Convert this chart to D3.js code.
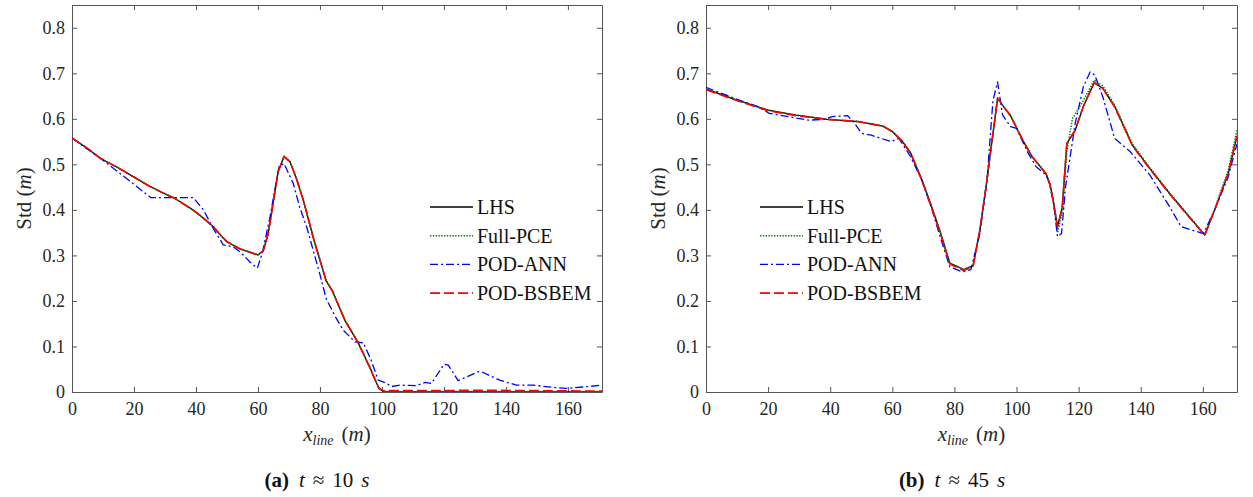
<!DOCTYPE html>
<html>
<head>
<meta charset="utf-8">
<script src="https://cdn.jsdelivr.net/npm/d3@7"></script>
<style>
  body { margin: 0; background: #fff; }
  svg, svg text { font-family: "Liberation Serif", "Times New Roman", serif; }
  .tick text { fill: #262626; font-size: 18px; font-family: "Liberation Serif", serif; }
</style>
</head>
<body>
<svg id="fig" width="1253" height="497"></svg>
<script>
// ---- data ----
const seriesNames = ["LHS", "Full-PCE", "POD-ANN", "POD-BSBEM"];
const xTicks = [0, 20, 40, 60, 80, 100, 120, 140, 160];
const yTicks = [0, 0.1, 0.2, 0.3, 0.4, 0.5, 0.6, 0.7, 0.8];
const xMax = 171, yMax = 0.85;

// (a) t ~ 10 s
const a_LHS = [[0,0.558],[5,0.535],[9,0.514],[15,0.492],[20,0.472],[25,0.452],[30,0.435],[33,0.426],[36,0.413],[39,0.400],[42,0.384],[45.6,0.363],[48,0.344],[50,0.330],[54,0.315],[57,0.308],[60,0.301],[61.7,0.310],[63.3,0.348],[65,0.420],[66.5,0.484],[68.4,0.517],[70.3,0.506],[72.2,0.473],[74.6,0.422],[78,0.335],[82,0.244],[84,0.222],[88,0.158],[92.4,0.107],[96,0.055],[99,0.008],[100.5,0.001],[110,0],[171,0]];
const a_PCE = [[0,0.558],[5,0.535],[9,0.514],[15,0.492],[20,0.472],[25,0.452],[30,0.435],[33,0.426],[36,0.413],[39,0.400],[42,0.384],[45.6,0.363],[48,0.344],[50,0.330],[54,0.315],[57,0.308],[60,0.301],[61.7,0.310],[63.3,0.348],[65,0.420],[66.5,0.484],[68.4,0.518],[70.3,0.507],[72.2,0.474],[74.6,0.423],[78,0.336],[82,0.245],[84,0.223],[88,0.159],[92.4,0.108],[96,0.056],[99,0.009],[100.5,0.001],[110,0],[171,0]];
const a_ANN = [[0,0.558],[5,0.533],[10,0.509],[17.6,0.469],[25.4,0.427],[32.7,0.427],[39.1,0.427],[42.4,0.400],[45.6,0.359],[48.8,0.323],[52,0.319],[54.7,0.305],[57.5,0.285],[59.8,0.272],[61.4,0.305],[63.9,0.385],[66.8,0.495],[68.4,0.502],[71.4,0.458],[73.5,0.405],[75.7,0.363],[80,0.258],[82,0.205],[85,0.165],[87.5,0.136],[91.3,0.110],[94,0.108],[96.5,0.070],[98.8,0.026],[101.5,0.019],[103.1,0.012],[105.8,0.015],[111.2,0.014],[113.9,0.021],[116,0.019],[120,0.061],[121.4,0.059],[124.6,0.025],[131.6,0.046],[138,0.026],[143.4,0.015],[148.8,0.015],[155.3,0.010],[159.6,0.008],[165,0.011],[171,0.015]];
const a_BSBEM = [[0,0.558],[5,0.535],[9,0.514],[15,0.492],[20,0.472],[25,0.452],[30,0.435],[33,0.426],[36,0.413],[39,0.400],[42,0.384],[45.6,0.363],[48,0.344],[50,0.330],[54,0.315],[57,0.308],[60,0.301],[61.7,0.310],[63.3,0.348],[65,0.420],[66.5,0.484],[68.4,0.517],[70.3,0.506],[72.2,0.473],[74.6,0.422],[78,0.335],[82,0.244],[84,0.222],[88,0.158],[92.4,0.107],[96,0.055],[99,0.008],[100.5,0.003],[110,0.003],[120,0.003],[130,0.004],[150,0.003],[171,0.002]];

// (b) t ~ 45 s
const b_LHS = [[0,0.665],[10,0.641],[20,0.619],[29,0.608],[39,0.599],[49,0.594],[57,0.584],[60,0.572],[63.3,0.550],[66,0.524],[69.5,0.466],[72.5,0.410],[75.6,0.348],[78.5,0.283],[83,0.269],[86,0.277],[88.2,0.356],[90.5,0.466],[91.5,0.520],[93.9,0.645],[96,0.625],[98,0.608],[102,0.553],[105,0.517],[109.5,0.480],[110.7,0.458],[111.8,0.422],[113.2,0.363],[114.7,0.405],[116.2,0.546],[118.9,0.575],[121.5,0.627],[125,0.679],[127.8,0.667],[131.6,0.627],[137.3,0.542],[142.9,0.491],[149.3,0.436],[155.6,0.385],[160.6,0.345],[163.8,0.400],[168.2,0.480],[171,0.563]];
const b_PCE = [[0,0.665],[10,0.641],[20,0.619],[29,0.608],[39,0.599],[49,0.594],[57,0.584],[60,0.572],[63.3,0.550],[66,0.524],[69.5,0.466],[72.5,0.410],[75.6,0.348],[78.5,0.283],[83,0.269],[86,0.277],[88.2,0.356],[90.5,0.466],[91.5,0.520],[93.9,0.645],[96,0.625],[98,0.608],[102,0.553],[105,0.517],[109.5,0.480],[110.7,0.458],[111.8,0.420],[113.2,0.350],[114.9,0.400],[116.2,0.530],[118,0.600],[121.5,0.640],[125,0.685],[127.8,0.672],[131.6,0.630],[137.3,0.545],[142.9,0.493],[149.3,0.437],[155.6,0.386],[160.6,0.345],[163.8,0.402],[168.2,0.487],[171,0.575]];
const b_ANN = [[0,0.669],[10,0.643],[16.6,0.627],[20.4,0.612],[33,0.597],[38.1,0.599],[40.6,0.605],[45.6,0.607],[47.9,0.590],[50.1,0.568],[53.2,0.564],[59.6,0.550],[62.1,0.557],[65.9,0.517],[69.7,0.462],[72.8,0.400],[75.6,0.337],[78.5,0.275],[82.5,0.264],[85.3,0.269],[88.2,0.348],[90.5,0.466],[92.4,0.640],[93.9,0.681],[95.5,0.608],[98.1,0.583],[100,0.579],[103.8,0.524],[106.3,0.495],[109.5,0.477],[110.7,0.456],[112,0.412],[113.2,0.341],[114.5,0.348],[115.8,0.451],[117.1,0.509],[118.9,0.590],[121.5,0.670],[123.7,0.703],[125.2,0.696],[127.8,0.648],[131.6,0.557],[136.6,0.528],[142.9,0.477],[149.3,0.407],[153,0.363],[160.2,0.348],[163.8,0.400],[168.2,0.473],[171,0.545]];
const b_BSBEM = [[0,0.664],[10,0.640],[20,0.618],[29,0.607],[39,0.599],[49,0.594],[57,0.584],[60,0.572],[63.3,0.550],[66,0.523],[69.5,0.465],[72.5,0.408],[75.6,0.346],[78.5,0.281],[83,0.267],[86,0.276],[88.2,0.355],[90.5,0.466],[91.5,0.520],[93.9,0.646],[96,0.625],[98,0.607],[102,0.553],[105,0.517],[109.5,0.479],[110.7,0.457],[111.8,0.420],[113.2,0.362],[114.7,0.405],[116.2,0.546],[118.9,0.575],[121.5,0.627],[125,0.680],[127.8,0.667],[131.6,0.626],[137.3,0.541],[142.9,0.490],[149.3,0.435],[155.6,0.384],[160.6,0.344],[163.8,0.400],[168.2,0.480],[171,0.562]];

const seriesStyle = [
  {color: "#000000", dash: null, width: 1.3},
  {color: "#008000", dash: "1.4,1.4", width: 1.6},
  {color: "#0000ff", dash: "8,3,2,3", width: 1.3},
  {color: "#ff0000", dash: "10,4", width: 1.6}
];

const svg = d3.select("#fig");
const plotTop = 5, plotBottom = 392;

function drawPanel(id, left, right, data, legendX, capLabel, capTime, capX) {
  const x = d3.scaleLinear().domain([0, xMax]).range([left, right]);
  const y = d3.scaleLinear().domain([0, yMax]).range([plotBottom, plotTop]);
  const g = svg.append("g");

  g.append("defs").append("clipPath")
      .attr("id", "clip" + id)
      .append("rect")
      .attr("x", left).attr("y", plotTop)
      .attr("width", right - left).attr("height", plotBottom - plotTop);

  // axes, ticks pointing inward on all four sides
  const ax = [
    g.append("g").attr("transform", `translate(0,${plotBottom})`)
      .call(d3.axisBottom(x).tickValues(xTicks).tickSizeInner(-5).tickSizeOuter(0).tickPadding(10)),
    g.append("g").attr("transform", `translate(${left},0)`)
      .call(d3.axisLeft(y).tickValues(yTicks).tickSizeInner(-5).tickSizeOuter(0).tickPadding(7)
        .tickFormat(d => d === 0 ? "0" : d.toFixed(1))),
    g.append("g").attr("transform", `translate(0,${plotTop})`)
      .call(d3.axisTop(x).tickValues(xTicks).tickSizeInner(-5).tickSizeOuter(0).tickFormat("")),
    g.append("g").attr("transform", `translate(${right},0)`)
      .call(d3.axisRight(y).tickValues(yTicks).tickSizeInner(-5).tickSizeOuter(0).tickFormat(""))
  ];
  ax.forEach(a => {
    a.select(".domain").attr("stroke", "#555");
    a.selectAll(".tick line").attr("stroke", "#555");
    a.attr("font-family", null).attr("font-size", null);
  });

  const line = d3.line().x(d => x(d[0])).y(d => y(d[1]));

  const lines = g.append("g").attr("clip-path", `url(#clip${id})`);
  data.forEach((s, i) => {
    lines.append("path")
      .attr("d", line(s))
      .attr("fill", "none")
      .attr("stroke", seriesStyle[i].color)
      .attr("stroke-width", seriesStyle[i].width)
      .attr("stroke-dasharray", seriesStyle[i].dash)
      .attr("stroke-linejoin", "round");
  });

  // legend (no box)
  seriesNames.forEach((name, i) => {
    const ly = 207 + i * 28.7;
    g.append("line")
      .attr("x1", legendX).attr("x2", legendX + 43)
      .attr("y1", ly).attr("y2", ly)
      .attr("stroke", seriesStyle[i].color)
      .attr("stroke-width", seriesStyle[i].width)
      .attr("stroke-dasharray", seriesStyle[i].dash);
    g.append("text")
      .attr("x", legendX + 47).attr("y", ly).attr("dy", "0.35em")
      .attr("font-size", 20).attr("fill", "#111")
      .text(name);
  });

  // y label
  const yl = g.append("text")
      .attr("transform", `translate(${left - 41},${(plotTop + plotBottom) / 2}) rotate(-90)`)
      .attr("text-anchor", "middle")
      .attr("font-size", 21).attr("fill", "#262626");
  yl.append("tspan").text("Std (");
  yl.append("tspan").attr("font-style", "italic").text("m");
  yl.append("tspan").text(")");

  // x label
  const xl = g.append("text")
      .attr("x", (left + right) / 2).attr("y", 441)
      .attr("text-anchor", "middle")
      .attr("font-size", 21).attr("fill", "#262626");
  xl.append("tspan").attr("font-style", "italic").text("x");
  xl.append("tspan").attr("font-style", "italic").attr("font-size", 14).attr("dy", 4).text("line");
  xl.append("tspan").attr("dy", -4).attr("dx", 8).text("(");
  xl.append("tspan").attr("font-style", "italic").text("m");
  xl.append("tspan").text(")");

  // caption
  const cap = g.append("text")
      .attr("x", capX).attr("y", 487)
      .attr("text-anchor", "middle")
      .attr("font-size", 21).attr("fill", "#111");
  cap.append("tspan").attr("font-weight", "bold").text(capLabel);
  cap.append("tspan").attr("dx", 10).attr("font-style", "italic").text("t");
  cap.append("tspan").attr("dx", 8).text("\u2248");
  cap.append("tspan").attr("dx", 8).text(capTime);
  cap.append("tspan").attr("dx", 8).attr("font-style", "italic").text("s");
}

drawPanel("a", 72, 602, [a_LHS, a_PCE, a_ANN, a_BSBEM], 430, "(a)", "10", 317);
drawPanel("b", 706, 1237, [b_LHS, b_PCE, b_ANN, b_BSBEM], 760, "(b)", "45", 952);
</script>
</body>
</html>
